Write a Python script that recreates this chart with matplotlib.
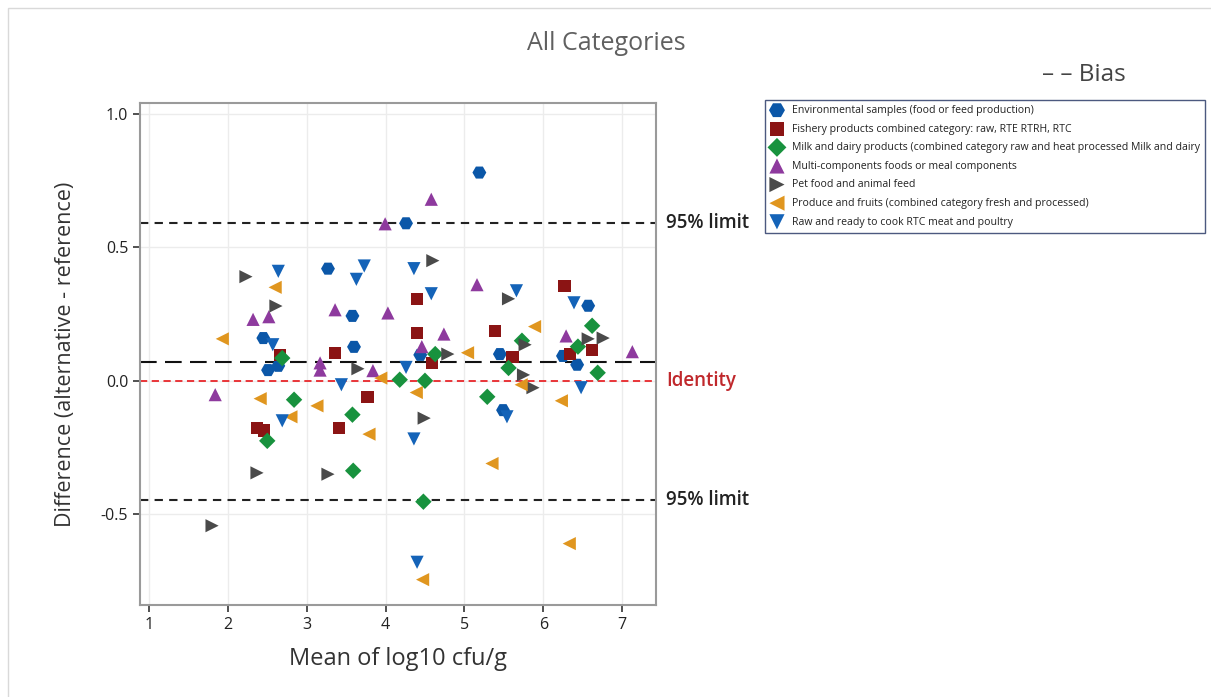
import matplotlib
matplotlib.use("Agg")
import matplotlib.pyplot as plt
from matplotlib.patches import Rectangle

plt.rcParams['font.family'] = ['Open Sans', 'DejaVu Sans']

categories = [
    "Environmental samples (food or feed production)",
    "Fishery products combined category: raw, RTE RTRH, RTC",
    "Milk and dairy products (combined category raw and heat processed Milk and dairy",
    "Multi-components foods or meal components",
    "Pet food and animal feed",
    "Produce and fruits (combined category fresh and processed)",
    "Raw and ready to cook RTC meat and poultry",
]

env_x = [2.45, 3.27, 3.58, 3.60, 2.51, 2.64, 4.26, 5.19, 4.44, 5.45, 5.49, 6.25, 6.43, 6.57]
env_y = [0.16, 0.42, 0.243, 0.127, 0.04, 0.056, 0.59, 0.78, 0.097, 0.10, -0.11, 0.093, 0.06, 0.281]

fish_x = [2.37, 2.46, 2.66, 3.36, 3.41, 3.77, 4.40, 4.40, 4.59, 5.39, 5.61, 6.27, 6.34, 6.62]
fish_y = [-0.176, -0.187, 0.097, 0.105, -0.176, -0.06, 0.307, 0.18, 0.067, 0.187, 0.09, 0.355, 0.10, 0.116]

milk_x = [2.50, 2.69, 2.84, 3.58, 3.59, 4.18, 4.50, 4.48, 4.63, 5.29, 5.56, 5.73, 6.44, 6.62, 6.69]
milk_y = [-0.225, 0.085, -0.071, -0.127, -0.337, 0.004, 0.0, -0.453, 0.10, -0.06, 0.048, 0.15, 0.128, 0.206, 0.03]

multi_x = [1.84, 2.32, 2.52, 3.17, 3.17, 3.36, 3.84, 3.995, 4.03, 4.46, 4.58, 4.74, 5.16, 6.29, 7.13]
multi_y = [-0.052, 0.23, 0.24, 0.067, 0.04, 0.266, 0.038, 0.588, 0.254, 0.128, 0.68, 0.175, 0.36, 0.168, 0.109]

pet_x = [1.80, 2.23, 2.37, 2.61, 3.27, 3.65, 4.49, 4.60, 4.79, 5.56, 5.75, 5.77, 5.87, 6.57, 6.76]
pet_y = [-0.543, 0.39, -0.345, 0.28, -0.35, 0.045, -0.14, 0.45, 0.10, 0.307, 0.022, 0.135, -0.026, 0.157, 0.16]

prod_x = [1.93, 2.41, 2.60, 2.80, 3.13, 3.79, 3.94, 4.39, 4.47, 5.04, 5.35, 5.72, 5.89, 6.23, 6.33]
prod_y = [0.157, -0.067, 0.35, -0.135, -0.094, -0.20, 0.01, -0.044, -0.745, 0.105, -0.31, -0.015, 0.203, -0.075, -0.61]

meat_x = [2.57, 2.64, 2.69, 3.44, 3.63, 3.73, 4.26, 4.36, 4.36, 4.40, 4.58, 5.54, 5.66, 6.39, 6.48]
meat_y = [0.135, 0.41, -0.15, -0.015, 0.38, 0.43, 0.05, 0.42, -0.218, -0.68, 0.326, -0.135, 0.337, 0.292, -0.026]

bias = 0.071
upper_limit = 0.59
lower_limit = -0.446

xs = [env_x, fish_x, milk_x, multi_x, pet_x, prod_x, meat_x]
ys = [env_y, fish_y, milk_y, multi_y, pet_y, prod_y, meat_y]
markers = ['H', 's', 'D', '^', '>', '<', 'v']
colors = ['#0b57a8', '#8b1414', '#18923e', '#8e3a9e', '#4a4a4a', '#e0961f', '#1463b8']
sizes = [100, 80, 70, 90, 90, 90, 90]

fig = plt.figure(figsize=(12.11, 6.97), dpi=100)
fig.patches.append(Rectangle((0.007, -0.01), 1.0, 0.999, transform=fig.transFigure,
                             fill=False, edgecolor='#d9d9d9', linewidth=1.0))
ax = fig.add_axes([0.1156, 0.132, 0.4261, 0.720])

handles = []
for x, y, m, c, s, lab in zip(xs, ys, markers, colors, sizes, categories):
    h = ax.scatter(x, y, marker=m, s=s, color=c, edgecolors='none', label=lab, zorder=3)
    handles.append(h)

ax.axhline(upper_limit, color='#222222', linestyle=(0, (4, 3)), linewidth=1.5, zorder=2)
ax.axhline(lower_limit, color='#222222', linestyle=(0, (4, 3)), linewidth=1.5, zorder=2)
ax.axhline(bias, color='#111111', linestyle=(0, (8, 4)), linewidth=1.5, zorder=2)
ax.axhline(0.0, color='#e8262a', linestyle=(0, (4, 2.5)), linewidth=1.3, zorder=2)

ax.set_xlim(0.886, 7.43)
ax.set_ylim(-0.84, 1.04)
ax.set_xticks([1, 2, 3, 4, 5, 6, 7])
ax.set_yticks([-0.5, 0.0, 0.5, 1.0])
ax.set_yticklabels(['-0.5', '0.0', '0.5', '1.0'])
ax.grid(True, color='#ececec', linewidth=1.0, zorder=0)
ax.set_axisbelow(True)
for sp in ax.spines.values():
    sp.set_color('#9a9a9a')
    sp.set_linewidth(1.5)
ax.tick_params(axis='both', labelsize=11.5, colors='#333333', length=5, width=1.2)
for lbl in ax.get_xticklabels() + ax.get_yticklabels():
    lbl.set_color('#222222')
    lbl.set_fontweight('medium')

ax.set_xlabel('Mean of log10 cfu/g', fontsize=17, color='#333333', labelpad=10)
ax.set_ylabel('Difference (alternative - reference)', fontsize=15.5, color='#333333', labelpad=18)

trans = ax.get_yaxis_transform()
ax.text(1.02, upper_limit, '95% limit', transform=trans, fontsize=13.5, color='#222222',
        va='center', ha='left', fontweight='semibold')
ax.text(1.02, lower_limit, '95% limit', transform=trans, fontsize=13.5, color='#222222',
        va='center', ha='left', fontweight='semibold')
ax.text(1.02, 0.0, 'Identity', transform=trans, fontsize=13.5, color='#c0282c',
        va='center', ha='left', fontweight='semibold')

fig.text(0.501, 0.938, 'All Categories', fontsize=18, color='#606060', ha='center', va='center')
fig.text(0.895, 0.893, '– – Bias', fontsize=17.5, color='#444444', ha='center', va='center')

leg = fig.legend(handles=handles, labels=categories, loc='upper left',
                 bbox_to_anchor=(0.632, 0.857), fontsize=7.6, frameon=True, fancybox=False,
                 handletextpad=0.8, borderpad=0.5, labelspacing=0.72, handlelength=1.2,
                 markerscale=1.15, borderaxespad=0)
leg.get_frame().set_edgecolor('#1f2f5f')
leg.get_frame().set_linewidth(1.0)
for t in leg.get_texts():
    t.set_color('#222222')

fig.savefig('out.png', dpi=100)
